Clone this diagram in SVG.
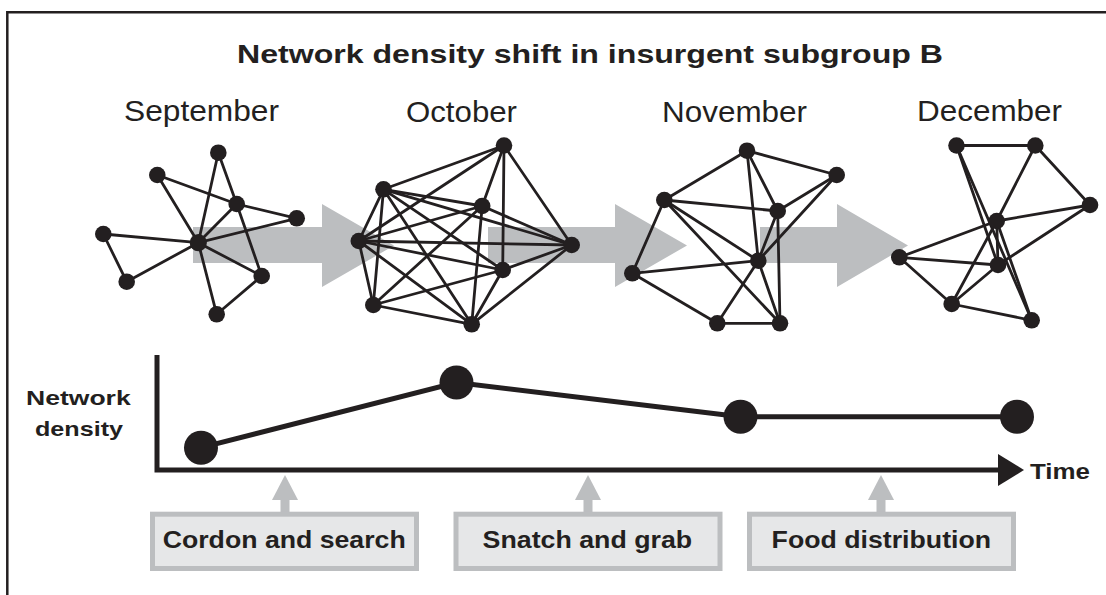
<svg xmlns="http://www.w3.org/2000/svg" width="1106" height="595" viewBox="0 0 1106 595">
<style>
  .e { stroke:#231f20; stroke-width:2.8; fill:none; stroke-linecap:round; }
  .n { fill:#231f20; }
  .big { fill:#bcbec0; }
  .t { font-family:"Liberation Sans", Arial, sans-serif; fill:#231f20; }
  .b { font-weight:bold; }
  .box { fill:#e6e7e8; stroke:#bcbec0; stroke-width:5; }
  .ax { stroke:#231f20; stroke-width:5; fill:none; }
  .cl { stroke:#231f20; stroke-width:5; fill:none; }
</style>
<rect width="1106" height="595" fill="#ffffff"/>
<path d="M7.3 595 V12.3 H1106" stroke="#231f20" stroke-width="2.5" fill="none"/>

<text class="t b" x="237" y="63" font-size="26.5" textLength="706" lengthAdjust="spacingAndGlyphs">Network density shift in insurgent subgroup B</text>
<text class="t" x="124" y="121" font-size="29" textLength="155" lengthAdjust="spacingAndGlyphs">September</text>
<text class="t" x="406" y="121.5" font-size="29" textLength="111" lengthAdjust="spacingAndGlyphs">October</text>
<text class="t" x="662" y="121.5" font-size="29" textLength="145" lengthAdjust="spacingAndGlyphs">November</text>
<text class="t" x="917" y="121" font-size="29" textLength="145" lengthAdjust="spacingAndGlyphs">December</text>

<g id="connectors">
  <polygon class="big" points="193,227 322,227 322,204 394,245.5 322,287 322,263 193,263"/>
  <polygon class="big" points="488,227 615,227 615,204 687,245.5 615,287 615,263 488,263"/>
  <polygon class="big" points="760,227 837,227 837,204 908,245.5 837,287 837,263 760,263"/>
  <polyline class="cl" points="201,447.7 456.5,382.5 740.5,416.7 1017,416.7"/>
  <g fill="#bcbec0">
    <polygon points="272,500 285,475 298,500"/><rect x="280.5" y="499" width="9" height="13"/>
    <polygon points="575,500 588,475 601,500"/><rect x="583.5" y="499" width="9" height="13"/>
    <polygon points="868,500 881,475 894,500"/><rect x="876.5" y="499" width="9" height="13"/>
  </g>
</g>

<g id="network-september">
  <g class="e">
    <line x1="218.3" y1="152.7" x2="236.7" y2="204"/>
    <line x1="218.3" y1="152.7" x2="198.3" y2="242.7"/>
    <line x1="157.3" y1="175" x2="236.7" y2="204"/>
    <line x1="157.3" y1="175" x2="198.3" y2="242.7"/>
    <line x1="236.7" y1="204" x2="296.7" y2="218.3"/>
    <line x1="236.7" y1="204" x2="198.3" y2="242.7"/>
    <line x1="236.7" y1="204" x2="261.7" y2="276"/>
    <line x1="296.7" y1="218.3" x2="198.3" y2="242.7"/>
    <line x1="103.3" y1="234" x2="198.3" y2="242.7"/>
    <line x1="103.3" y1="234" x2="126.7" y2="281.7"/>
    <line x1="126.7" y1="281.7" x2="198.3" y2="242.7"/>
    <line x1="198.3" y1="242.7" x2="261.7" y2="276"/>
    <line x1="198.3" y1="242.7" x2="216.7" y2="314.3"/>
    <line x1="261.7" y1="276" x2="216.7" y2="314.3"/>
  </g>
  <g class="n">
    <circle cx="218.3" cy="152.7" r="8.3"/><circle cx="157.3" cy="175" r="8.3"/>
    <circle cx="236.7" cy="204" r="8.3"/><circle cx="296.7" cy="218.3" r="8.3"/>
    <circle cx="103.3" cy="234" r="8.3"/><circle cx="198.3" cy="242.7" r="8.6"/>
    <circle cx="126.7" cy="281.7" r="8.3"/><circle cx="261.7" cy="276" r="8.3"/>
    <circle cx="216.7" cy="314.3" r="8.3"/>
  </g>
</g>

<g id="network-october">
  <g class="e">
    <line x1="504" y1="145.5" x2="383.5" y2="189.3"/>
    <line x1="504" y1="145.5" x2="482.2" y2="206"/>
    <line x1="504" y1="145.5" x2="358.8" y2="241"/>
    <line x1="504" y1="145.5" x2="571.7" y2="245"/>
    <line x1="504" y1="145.5" x2="502.7" y2="270"/>
    <line x1="383.5" y1="189.3" x2="482.2" y2="206"/>
    <line x1="383.5" y1="189.3" x2="358.8" y2="241"/>
    <line x1="383.5" y1="189.3" x2="571.7" y2="245"/>
    <line x1="383.5" y1="189.3" x2="502.7" y2="270"/>
    <line x1="383.5" y1="189.3" x2="373.3" y2="305"/>
    <line x1="383.5" y1="189.3" x2="471.7" y2="324.3"/>
    <line x1="482.2" y1="206" x2="358.8" y2="241"/>
    <line x1="482.2" y1="206" x2="571.7" y2="245"/>
    <line x1="482.2" y1="206" x2="373.3" y2="305"/>
    <line x1="482.2" y1="206" x2="471.7" y2="324.3"/>
    <line x1="358.8" y1="241" x2="571.7" y2="245"/>
    <line x1="358.8" y1="241" x2="502.7" y2="270"/>
    <line x1="358.8" y1="241" x2="373.3" y2="305"/>
    <line x1="358.8" y1="241" x2="471.7" y2="324.3"/>
    <line x1="571.7" y1="245" x2="502.7" y2="270"/>
    <line x1="571.7" y1="245" x2="471.7" y2="324.3"/>
    <line x1="502.7" y1="270" x2="373.3" y2="305"/>
    <line x1="502.7" y1="270" x2="471.7" y2="324.3"/>
    <line x1="373.3" y1="305" x2="471.7" y2="324.3"/>
  </g>
  <g class="n">
    <circle cx="504" cy="145.5" r="8.3"/><circle cx="383.5" cy="189.3" r="8.3"/>
    <circle cx="482.2" cy="206" r="8.3"/><circle cx="358.8" cy="241" r="8.3"/>
    <circle cx="571.7" cy="245" r="8.3"/><circle cx="502.7" cy="270" r="8.3"/>
    <circle cx="373.3" cy="305" r="8.3"/><circle cx="471.7" cy="324.3" r="8.3"/>
  </g>
</g>

<g id="network-november">
  <g class="e">
    <line x1="747" y1="150.7" x2="836.7" y2="175"/>
    <line x1="747" y1="150.7" x2="664.3" y2="200"/>
    <line x1="747" y1="150.7" x2="777.7" y2="211"/>
    <line x1="747" y1="150.7" x2="758.3" y2="260.7"/>
    <line x1="836.7" y1="175" x2="777.7" y2="211"/>
    <line x1="836.7" y1="175" x2="758.3" y2="260.7"/>
    <line x1="664.3" y1="200" x2="777.7" y2="211"/>
    <line x1="664.3" y1="200" x2="758.3" y2="260.7"/>
    <line x1="664.3" y1="200" x2="780" y2="323.3"/>
    <line x1="664.3" y1="200" x2="632.3" y2="273.3"/>
    <line x1="777.7" y1="211" x2="758.3" y2="260.7"/>
    <line x1="777.7" y1="211" x2="780" y2="323.3"/>
    <line x1="758.3" y1="260.7" x2="632.3" y2="273.3"/>
    <line x1="758.3" y1="260.7" x2="717.3" y2="323.3"/>
    <line x1="758.3" y1="260.7" x2="780" y2="323.3"/>
    <line x1="632.3" y1="273.3" x2="717.3" y2="323.3"/>
    <line x1="717.3" y1="323.3" x2="780" y2="323.3"/>
  </g>
  <g class="n">
    <circle cx="747" cy="150.7" r="8.3"/><circle cx="836.7" cy="175" r="8.3"/>
    <circle cx="664.3" cy="200" r="8.3"/><circle cx="777.7" cy="211" r="8.3"/>
    <circle cx="758.3" cy="260.7" r="8.3"/><circle cx="632.3" cy="273.3" r="8.3"/>
    <circle cx="717.3" cy="323.3" r="8.3"/><circle cx="780" cy="323.3" r="8.3"/>
  </g>
</g>

<g id="network-december">
  <g class="e">
    <line x1="956.5" y1="145.5" x2="1035.3" y2="145.5"/>
    <line x1="956.5" y1="145.5" x2="998" y2="265"/>
    <line x1="956.5" y1="145.5" x2="1031.7" y2="320.3"/>
    <line x1="1035.3" y1="145.5" x2="1090" y2="205"/>
    <line x1="1035.3" y1="145.5" x2="996.7" y2="221"/>
    <line x1="1090" y1="205" x2="996.7" y2="221"/>
    <line x1="1090" y1="205" x2="998" y2="265"/>
    <line x1="996.7" y1="221" x2="899.3" y2="257.3"/>
    <line x1="996.7" y1="221" x2="998" y2="265"/>
    <line x1="996.7" y1="221" x2="951.7" y2="304"/>
    <line x1="996.7" y1="221" x2="1031.7" y2="320.3"/>
    <line x1="899.3" y1="257.3" x2="998" y2="265"/>
    <line x1="899.3" y1="257.3" x2="951.7" y2="304"/>
    <line x1="998" y1="265" x2="951.7" y2="304"/>
    <line x1="951.7" y1="304" x2="1031.7" y2="320.3"/>
  </g>
  <g class="n">
    <circle cx="956.5" cy="145.5" r="8.3"/><circle cx="1035.3" cy="145.5" r="8.3"/>
    <circle cx="1090" cy="205" r="8.3"/><circle cx="996.7" cy="221" r="8.3"/>
    <circle cx="899.3" cy="257.3" r="8.3"/><circle cx="998" cy="265" r="8.3"/>
    <circle cx="951.7" cy="304" r="8.3"/><circle cx="1031.7" cy="320.3" r="8.3"/>
  </g>
</g>

<g id="chart-axes">
  <path class="ax" d="M157 355 V470 H1000"/>
  <polygon points="998,454 1024,470 998,486" fill="#231f20"/>
  <text class="t b" x="26" y="405" font-size="21" textLength="104.7" lengthAdjust="spacingAndGlyphs">Network</text>
  <text class="t b" x="35" y="436" font-size="21" textLength="88" lengthAdjust="spacingAndGlyphs">density</text>
  <text class="t b" x="1030" y="479" font-size="22" textLength="60" lengthAdjust="spacingAndGlyphs">Time</text>
</g>

<g id="point-september"><circle class="n" cx="201" cy="447.7" r="17"/></g>
<g id="point-october"><circle class="n" cx="456.5" cy="382.5" r="17"/></g>
<g id="point-november"><circle class="n" cx="740.5" cy="416.7" r="17"/></g>
<g id="point-december"><circle class="n" cx="1017" cy="416.7" r="17"/></g>

<g id="box-cordon">
  <rect class="box" x="152.5" y="514.2" width="264" height="54.3"/>
  <text class="t b" x="162.7" y="548.3" font-size="24" textLength="243" lengthAdjust="spacingAndGlyphs">Cordon and search</text>
</g>
<g id="box-snatch">
  <rect class="box" x="456" y="514.2" width="264" height="54.3"/>
  <text class="t b" x="482.6" y="548.3" font-size="24" textLength="209.5" lengthAdjust="spacingAndGlyphs">Snatch and grab</text>
</g>
<g id="box-food">
  <rect class="box" x="749.5" y="514.2" width="264" height="54.3"/>
  <text class="t b" x="771.6" y="548.3" font-size="24" textLength="219.5" lengthAdjust="spacingAndGlyphs">Food distribution</text>
</g>
</svg>
